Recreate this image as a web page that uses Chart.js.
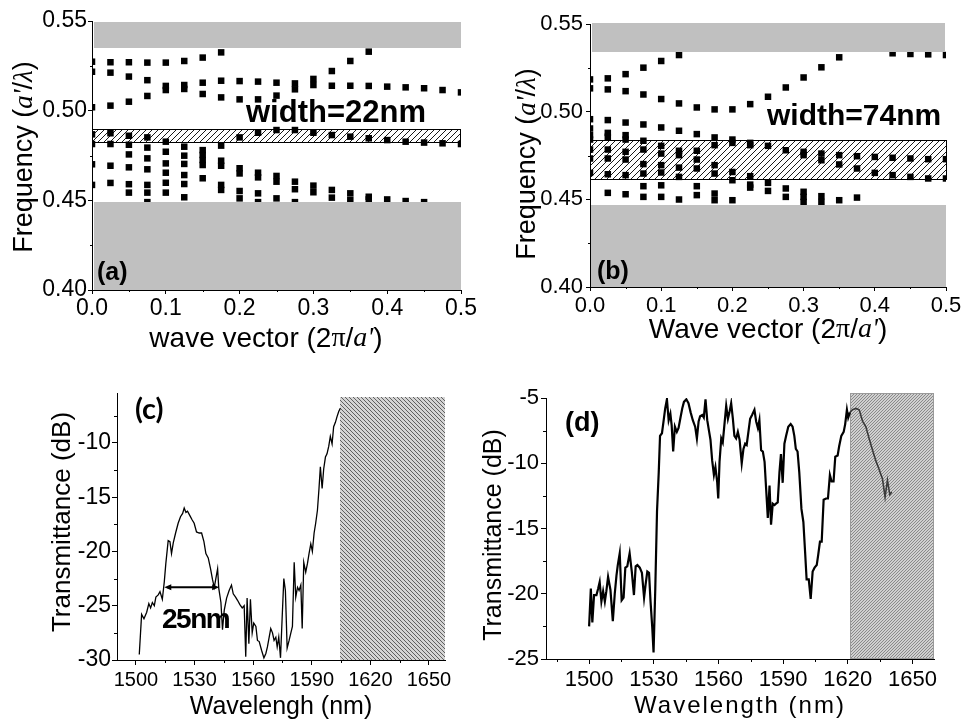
<!DOCTYPE html>
<html>
<head>
<meta charset="utf-8">
<script src="https://cdn.jsdelivr.net/npm/chart.js@4.4.0/dist/chart.umd.min.js"></script>
<style>
    html, body { margin: 0; padding: 0; background: #fff; }
    #wrap { position: relative; width: 962px; height: 723px; overflow: hidden; }
    canvas { position: absolute; }
</style>
</head>
<body>
<div id="wrap">
    <canvas id="chartA" width="480" height="360" style="left:0;top:0"></canvas>
    <canvas id="chartB" width="482" height="360" style="left:480px;top:0"></canvas>
    <canvas id="chartC" width="480" height="363" style="left:0;top:360px"></canvas>
    <canvas id="chartD" width="482" height="363" style="left:480px;top:360px"></canvas>
</div>
<script>
const SANS = "'Liberation Sans', Arial, sans-serif";
const SERIF = "'Liberation Serif', 'Times New Roman', serif";

// band diagrams (a) and (b): k points and mode frequencies at each k
const kPoints = [0, 0.025, 0.05, 0.075, 0.1, 0.125, 0.15, 0.175, 0.2, 0.225, 0.25,
    0.275, 0.3, 0.325, 0.35, 0.375, 0.4, 0.425, 0.45, 0.475, 0.5];

const freqA = [
    [0.5273, 0.5217, 0.5019, 0.4868, 0.4814, 0.4701, 0.4586],
    [0.527, 0.5212, 0.5028, 0.4874, 0.4814, 0.4693, 0.4597],
    [0.527, 0.519, 0.505, 0.486, 0.481, 0.4756, 0.4684, 0.459, 0.4543],
    [0.5268, 0.517, 0.5082, 0.4851, 0.4794, 0.4734, 0.4673, 0.4586, 0.4543, 0.449],
    [0.5268, 0.5138, 0.5115, 0.4827, 0.4771, 0.4706, 0.4654, 0.4598, 0.4543],
    [0.5277, 0.5143, 0.5121, 0.4799, 0.4749, 0.4703, 0.4641, 0.4591, 0.4517],
    [0.5296, 0.5156, 0.5093, 0.478, 0.4753, 0.4725, 0.4697, 0.4623],
    [0.5325, 0.5167, 0.5074, 0.4805, 0.4721, 0.4693, 0.4586, 0.4558],
    [0.5165, 0.5063, 0.4851, 0.4679, 0.465, 0.4552, 0.4511],
    [0.5162, 0.5063, 0.4877, 0.4654, 0.4628, 0.4539, 0.449],
    [0.5156, 0.5084, 0.4892, 0.4636, 0.4604, 0.4511],
    [0.5152, 0.5119, 0.4892, 0.4604, 0.4562, 0.449],
    [0.5177, 0.5143, 0.4877, 0.4582, 0.4545],
    [0.5221, 0.5139, 0.4864, 0.4558, 0.4515],
    [0.5277, 0.5139, 0.4855, 0.4539, 0.4502],
    [0.5329, 0.5138, 0.4846, 0.452, 0.4505],
    [0.5134, 0.4836, 0.4505],
    [0.513, 0.4827, 0.4496],
    [0.5125, 0.4822, 0.449],
    [0.5115, 0.4818],
    [0.5102, 0.4814]
];

const freqB = [
    [0.5184, 0.5133, 0.4957, 0.4904, 0.4866, 0.4841, 0.4784, 0.4733, 0.4651],
    [0.519, 0.5127, 0.4952, 0.4879, 0.4857, 0.4784, 0.4733, 0.4643, 0.4537],
    [0.5214, 0.5117, 0.4938, 0.4866, 0.4841, 0.4771, 0.4727, 0.4638, 0.4529],
    [0.5251, 0.5098, 0.4927, 0.4834, 0.4784, 0.4701, 0.4647, 0.4575, 0.4514],
    [0.5289, 0.5072, 0.491, 0.4805, 0.4761, 0.4695, 0.4653, 0.458, 0.4514],
    [0.5323, 0.5047, 0.4891, 0.4777, 0.4752, 0.4681, 0.4628, 0.4499],
    [0.5024, 0.4872, 0.4777, 0.4727, 0.4676, 0.4575, 0.4524],
    [0.5013, 0.4853, 0.4809, 0.4695, 0.4647, 0.4533, 0.4495],
    [0.5013, 0.4841, 0.4822, 0.4656, 0.4609, 0.4495],
    [0.5043, 0.4822, 0.4809, 0.4632, 0.4584, 0.4567],
    [0.5085, 0.4805, 0.4594, 0.4548],
    [0.5138, 0.478, 0.4562, 0.4514],
    [0.5195, 0.4771, 0.4752, 0.4543, 0.4514, 0.4485],
    [0.5253, 0.4761, 0.4723, 0.4518, 0.4485],
    [0.531, 0.4752, 0.4699, 0.4495],
    [0.4746, 0.4676, 0.451],
    [0.4742, 0.4651],
    [0.5333, 0.4737, 0.4638],
    [0.5329, 0.4733, 0.4628],
    [0.5327, 0.4729, 0.4619],
    [0.5323, 0.4729, 0.4619]
];

// frequency ranges of the shaded regions
const upperBandA = [0.5348, 0.5496];
const lowerBandA = [0.40, 0.4489];
const gapA = [0.4818, 0.4896];
const upperBandB = [0.5342, 0.5504];
const lowerBandB = [0.40, 0.4466];
const gapB = [0.4613, 0.4841];

// tick labels
const ticksK = [0, 0.1, 0.2, 0.3, 0.4, 0.5];
const ticksFreq = [0.40, 0.45, 0.50, 0.55];
const ticksWave = [1500, 1530, 1560, 1590, 1620, 1650];
const ticksTransC = [-30, -25, -20, -15, -10];
const ticksTransD = [-25, -20, -15, -10, -5];

// transmission spectrum (c)
const wavelengthC = [1501.7, 1502.9, 1504.1, 1505.5, 1506.6, 1507.5, 1508.4, 1509.4, 1510.2, 1511.4,
    1512.3, 1513.5, 1514.5, 1515.3, 1516.5, 1517.4, 1518.2, 1519.1, 1520.3, 1521.6,
    1522.8, 1523.9, 1524.7, 1525.6, 1526.4, 1527.6, 1528.8, 1529.8, 1531.0, 1532.4,
    1533.6, 1534.8, 1535.8, 1537.0, 1538.2, 1539.2, 1540.1, 1540.9, 1541.8, 1542.4,
    1543.5, 1544.3, 1545.2, 1546.4, 1547.7, 1548.9, 1549.8, 1551.0, 1552.0, 1553.2,
    1554.4, 1555.4, 1556.2, 1556.9, 1557.8, 1558.6, 1559.5, 1560.3, 1561.4, 1562.2,
    1563.1, 1564.3, 1565.5, 1566.5, 1567.3, 1568.2, 1569.0, 1569.9, 1570.7, 1571.6,
    1572.3, 1573.1, 1574.0, 1574.8, 1575.7, 1576.5, 1577.4, 1578.4, 1579.3, 1580.1,
    1581.0, 1581.8, 1582.7, 1583.5, 1584.4, 1585.1, 1585.9, 1586.9, 1587.8, 1588.6,
    1589.5, 1590.3, 1591.2, 1592.0, 1592.9, 1593.7, 1594.4, 1595.3, 1596.1, 1597.0,
    1597.8, 1598.7, 1599.5, 1600.4, 1601.2, 1602.1, 1602.9, 1603.8, 1604.6];
const transC = [-29.5, -25.8, -26.2, -25.6, -24.8, -25.2, -24.7, -25.0, -24.2, -24.0,
    -23.7, -24.4, -22.8, -21.1, -19.0, -19.1, -20.2, -19.2, -18.3, -17.4,
    -16.8, -16.5, -16.0, -16.4, -16.3, -16.7, -17.1, -17.4, -18.2, -18.3,
    -18.3, -19.1, -20.2, -20.6, -21.6, -22.6, -23.3, -22.5, -21.6, -23.4,
    -24.7, -27.2, -25.4, -24.3, -23.6, -23.1, -23.9, -24.2, -24.5, -24.9,
    -25.2, -25.0, -29.7, -24.3, -28.5, -24.4, -27.5, -26.6, -26.9, -28.2,
    -28.3, -29.1, -29.8, -29.4, -28.8, -27.9, -27.1, -27.5, -28.2, -27.9,
    -28.8, -27.9, -29.8, -26.3, -22.5, -23.6, -28.9, -28.2, -27.5, -26.9,
    -21.0, -24.2, -23.3, -23.6, -23.1, -27.1, -21.0, -21.9, -21.1, -20.2,
    -19.3, -20.0, -18.3, -17.4, -16.2, -14.2, -12.2, -14.2, -12.4, -11.3,
    -11.0, -10.3, -9.4, -10.1, -8.5, -8.1, -7.6, -7.1, -6.8];
const widthMarkC = [1514.5, 1542.6];
const widthLevelC = -23.3;
const shadeC = [1604.4, 1658.2];

// transmission spectrum (d)
const wavelengthD = [1500.0, 1500.8, 1501.5, 1502.3, 1503.4, 1504.2, 1504.9, 1505.7, 1506.5, 1507.3,
    1508.0, 1508.8, 1509.9, 1511.0, 1511.9, 1512.7, 1513.3, 1514.2, 1515.1, 1516.0,
    1516.8, 1517.7, 1518.8, 1519.8, 1520.8, 1521.6, 1522.4, 1523.5, 1524.5, 1525.5,
    1526.2, 1527.0, 1527.8, 1528.5, 1529.3, 1529.9, 1530.7, 1531.5, 1532.3, 1532.9,
    1533.8, 1534.6, 1535.3, 1536.1, 1536.9, 1537.7, 1538.3, 1539.0, 1539.8, 1540.7,
    1541.5, 1542.4, 1543.2, 1544.0, 1545.1, 1546.1, 1547.1, 1548.1, 1549.2, 1550.0,
    1550.8, 1551.5, 1552.5, 1553.2, 1554.0, 1554.8, 1555.6, 1556.3, 1557.1, 1557.9,
    1558.6, 1559.4, 1559.9, 1560.5, 1561.3, 1562.0, 1562.8, 1563.6, 1564.4, 1565.1,
    1565.9, 1566.7, 1567.4, 1568.2, 1569.0, 1569.8, 1570.8, 1571.6, 1572.4, 1573.1,
    1573.9, 1574.7, 1575.6, 1576.7, 1577.5, 1578.3, 1579.0, 1579.8, 1580.6, 1581.4,
    1582.1, 1582.9, 1583.7, 1584.4, 1585.2, 1586.0, 1586.7, 1587.5, 1588.3, 1589.0,
    1589.8, 1590.6, 1591.4, 1592.4, 1593.5, 1594.4, 1595.2, 1595.9, 1596.7, 1597.5,
    1598.5, 1599.4, 1600.2, 1600.9, 1601.9, 1602.8, 1603.7, 1604.6, 1605.6, 1606.3,
    1607.1, 1607.9, 1608.8, 1609.9, 1610.8, 1611.7, 1612.5, 1613.4, 1614.2, 1615.3,
    1616.0, 1617.0, 1618.1, 1618.8, 1619.6, 1620.2, 1621.0];
const transD = [-22.5, -19.6, -22.2, -20.1, -20.1, -19.6, -19.1, -20.6, -19.8, -20.6,
    -19.8, -18.7, -19.7, -22.1, -20.0, -18.6, -17.8, -16.9, -20.5, -20.3,
    -18.0, -17.9, -16.9, -18.3, -20.1, -17.9, -17.8, -18.0, -18.4, -20.3,
    -19.3, -18.3, -18.4, -20.6, -22.6, -24.5, -19.6, -13.7, -10.7, -7.9,
    -7.7, -6.7, -5.8, -5.1, -6.7, -6.2, -7.1, -9.1, -7.2, -7.6,
    -7.3, -6.5, -5.8, -5.3, -5.1, -5.4, -6.1, -6.7, -7.2, -8.1,
    -6.8, -6.4, -6.3, -6.5, -5.1, -6.7, -7.5, -8.2, -9.8, -10.9,
    -10.3, -11.4, -12.7, -9.9, -8.1, -8.4, -7.0, -5.6, -6.6, -6.1,
    -5.4, -6.6, -7.9, -8.1, -7.6, -8.2, -10.0, -8.9, -8.5, -8.6,
    -7.6, -6.6, -6.3, -5.9, -6.8, -7.3, -6.7, -9.0, -9.1, -9.9,
    -11.9, -14.2, -11.7, -14.7, -13.1, -13.2, -13.1, -13.0, -10.7, -9.3,
    -11.5, -8.5, -7.9, -7.2, -7.0, -7.2, -7.9, -8.9, -9.1, -10.7,
    -13.5, -14.5, -16.8, -18.9, -18.9, -20.4, -18.3, -18.0, -17.8, -17.0,
    -16.0, -16.0, -12.8, -12.7, -12.7, -10.9, -11.4, -11.4, -9.5, -9.4,
    -8.7, -7.9, -7.6, -7.0, -5.9, -6.5, -6.1];
const wavelengthDShaded = [1621.0, 1622.2, 1623.8, 1625.3, 1626.9, 1628.4, 1629.9, 1631.5,
    1633.0, 1634.6, 1636.1, 1637.3, 1638.4, 1639.5, 1640.4];
const transDShaded = [-6.1, -5.9, -5.8, -5.9, -6.8, -7.2, -8.1, -9.0,
    -9.8, -10.5, -11.2, -12.6, -11.3, -12.4, -12.2];
const shadeD = [1620.8, 1660];

function toPoints(xs, ys) {
    const n = Math.min(xs.length, ys.length);
    const pts = [];
    for (let i = 0; i < n; i++) pts.push({ x: xs[i], y: ys[i] });
    return pts;
}

function bandPoints(freqs) {
    return kPoints.flatMap((k, i) => freqs[i].map(f => ({ x: k, y: f })));
}

function fitY(w) {
    return s => { s.width = w; s.paddingTop = 0; s.paddingBottom = 0; };
}

function fitX(h) {
    return s => { s.height = h; s.paddingLeft = 0; s.paddingRight = 0; };
}

function makeHatch(ctx, h) {
    const s = h.size;
    const c = document.createElement('canvas');
    c.width = s;
    c.height = s;
    const g = c.getContext('2d');
    g.fillStyle = h.bg;
    g.fillRect(0, 0, s, s);
    g.strokeStyle = h.fg;
    g.lineWidth = h.width;
    g.beginPath();
    [-s, 0, s].forEach(o => {
        if (h.dir === '/') { g.moveTo(o, s); g.lineTo(o + s, 0); }
        else { g.moveTo(o, 0); g.lineTo(o + s, s); }
    });
    g.stroke();
    return ctx.createPattern(c, 'repeat');
}

function drawRegions(chart, list) {
    if (!list) return;
    const { ctx } = chart;
    const { x, y } = chart.scales;
    ctx.save();
    list.forEach(r => {
        const x0 = Math.round(x.getPixelForValue(r.x[0]));
        const x1 = Math.round(x.getPixelForValue(r.x[1]));
        const y0 = Math.round(y.getPixelForValue(r.y[1]));
        const y1 = Math.round(y.getPixelForValue(r.y[0]));
        ctx.fillStyle = r.hatch ? makeHatch(ctx, r.hatch) : r.color;
        ctx.fillRect(x0, y0, x1 - x0, y1 - y0);
        if (r.border) {
            ctx.strokeStyle = r.border;
            ctx.lineWidth = 1;
            ctx.strokeRect(x0 + 0.5, y0 + 0.5, x1 - x0 - 1, y1 - y0 - 1);
        }
    });
    ctx.restore();
}

const regionPlugin = {
    id: 'regions',
    beforeDatasetsDraw(chart, args, opts) { drawRegions(chart, opts.below); },
    afterDatasetsDraw(chart, args, opts) { drawRegions(chart, opts.above); }
};

const minorTickPlugin = {
    id: 'minorTicks',
    afterDraw(chart, args, opts) {
        const { ctx, chartArea } = chart;
        const { x, y } = chart.scales;
        const len = opts.len || 3;
        ctx.save();
        ctx.strokeStyle = '#000';
        ctx.lineWidth = 1;
        ctx.beginPath();
        (opts.x || []).forEach(v => {
            const px = Math.round(x.getPixelForValue(v)) + 0.5;
            ctx.moveTo(px, chartArea.bottom);
            ctx.lineTo(px, chartArea.bottom + len);
        });
        (opts.y || []).forEach(v => {
            const py = Math.round(y.getPixelForValue(v)) + 0.5;
            ctx.moveTo(chartArea.left, py);
            ctx.lineTo(chartArea.left - len, py);
        });
        ctx.stroke();
        ctx.restore();
    }
};

const arrowPlugin = {
    id: 'widthArrow',
    afterDatasetsDraw(chart, args, opts) {
        if (!opts.from) return;
        const { ctx } = chart;
        const { x, y } = chart.scales;
        const x0 = x.getPixelForValue(opts.from);
        const x1 = x.getPixelForValue(opts.to);
        const py = y.getPixelForValue(opts.level);
        ctx.save();
        ctx.strokeStyle = '#000';
        ctx.fillStyle = '#000';
        ctx.lineWidth = 2;
        ctx.beginPath();
        ctx.moveTo(x0 + 3, py);
        ctx.lineTo(x1 - 3, py);
        ctx.stroke();
        ctx.beginPath();
        ctx.moveTo(x0, py); ctx.lineTo(x0 + 7, py - 3); ctx.lineTo(x0 + 7, py + 3); ctx.closePath();
        ctx.moveTo(x1, py); ctx.lineTo(x1 - 7, py - 3); ctx.lineTo(x1 - 7, py + 3); ctx.closePath();
        ctx.fill();
        ctx.restore();
    }
};

const richTextPlugin = {
    id: 'richText',
    afterDraw(chart, args, opts) {
        const ctx = chart.ctx;
        (opts.items || []).forEach(it => {
            ctx.save();
            ctx.translate(it.x, it.y);
            if (it.rotate) ctx.rotate(it.rotate);
            ctx.textBaseline = 'middle';
            ctx.textAlign = 'left';
            ctx.fillStyle = it.color || '#000';
            ctx.letterSpacing = (it.spacing || 0) + 'px';
            let total = 0;
            const segs = it.segments.map(sg => {
                ctx.font = sg.font;
                const w = ctx.measureText(sg.text).width;
                total += w;
                return { text: sg.text, font: sg.font, w };
            });
            let cx = it.align === 'left' ? 0 : -total / 2;
            segs.forEach(sg => {
                ctx.font = sg.font;
                ctx.fillText(sg.text, cx, 0);
                cx += sg.w;
            });
            ctx.restore();
        });
    }
};

function sans(size, bold) { return (bold ? 'bold ' : '') + size + 'px ' + SANS; }
function ital(size) { return 'italic ' + size + 'px ' + SERIF; }

function freqTitle(x, y, size) {
    return {
        x, y, rotate: -Math.PI / 2,
        segments: [
            { text: 'Frequency (', font: sans(size) },
            { text: "a'", font: ital(size) },
            { text: '/', font: sans(size) },
            { text: 'λ', font: ital(size) },
            { text: ')', font: sans(size) }
        ]
    };
}

function waveTitle(label, x, y, size) {
    return {
        x, y,
        segments: [
            { text: label + ' (2', font: sans(size) },
            { text: 'π', font: size + 'px ' + SERIF },
            { text: '/', font: sans(size) },
            { text: "a'", font: ital(size) },
            { text: ')', font: sans(size) }
        ]
    };
}

function plainText(text, x, y, font, extra) {
    return Object.assign({ x, y, segments: [{ text, font }] }, extra || {});
}

function axis(o) {
    const fit = o.width ? fitY(o.width) : fitX(o.height);
    return {
        type: 'linear', min: o.min, max: o.max,
        afterFit: fit,
        afterBuildTicks: s => { s.ticks = o.ticks.map(v => ({ value: v })); },
        ticks: {
            autoSkip: false, maxRotation: 0,
            callback: o.format, color: '#000', padding: o.pad,
            font: { family: SANS, size: o.font }
        },
        grid: { drawOnChartArea: false, drawTicks: true, tickLength: o.tick, color: '#000' },
        border: { display: true, color: '#000', width: 1 }
    };
}

function baseOptions(padding, plugins, scales) {
    return {
        responsive: false,
        animation: false,
        devicePixelRatio: 1,
        events: [],
        layout: { padding },
        plugins: Object.assign({ legend: { display: false }, tooltip: { enabled: false } }, plugins),
        scales
    };
}

const gapHatch = { bg: '#fff', fg: '#000', size: 6, dir: '/', width: 0.9 };
const grayBand = '#c0c0c0';

new Chart(document.getElementById('chartA'), {
    type: 'scatter',
    data: {
        datasets: [{
            data: bandPoints(freqA),
            pointStyle: 'rect', pointRadius: 4.6, borderWidth: 0,
            backgroundColor: '#000', clip: 0
        }]
    },
    options: baseOptions({ top: 21, right: 19, left: 0, bottom: 0 }, {
        regions: {
            below: [{ x: [0, 0.5], y: gapA, hatch: gapHatch, border: '#000' }],
            above: [
                { x: [0.003, 0.5], y: upperBandA, color: grayBand },
                { x: [0.003, 0.5], y: lowerBandA, color: grayBand }
            ]
        },
        minorTicks: { x: [0.05, 0.15, 0.25, 0.35, 0.45], y: [0.425, 0.475, 0.525], len: 2 },
        richText: {
            items: [
                freqTitle(25, 157, 27),
                waveTitle('wave vector', 266, 339, 28),
                plainText('(a)', 97, 273, sans(25, true), { align: 'left' }),
                plainText('width=22nm', 246, 113, sans(31, true), { align: 'left' })
            ]
        }
    }, {
        x: axis({ min: 0, max: 0.5, ticks: ticksK, height: 70, font: 23, pad: 1, tick: 4, format: v => v.toFixed(1) }),
        y: axis({ min: 0.40, max: 0.55, ticks: ticksFreq, width: 92, font: 23, pad: 1, tick: 4, format: v => v.toFixed(2) })
    }),
    plugins: [regionPlugin, minorTickPlugin, richTextPlugin]
});

new Chart(document.getElementById('chartB'), {
    type: 'scatter',
    data: {
        datasets: [{
            data: bandPoints(freqB),
            pointStyle: 'rect', pointRadius: 4.6, borderWidth: 0,
            backgroundColor: '#000', clip: 0
        }]
    },
    options: baseOptions({ top: 24, right: 16, left: 0, bottom: 0 }, {
        regions: {
            below: [{ x: [0, 0.502], y: gapB, hatch: gapHatch, border: '#000' }],
            above: [
                { x: [0.003, 0.498], y: upperBandB, color: grayBand },
                { x: [0.001, 0.5], y: lowerBandB, color: grayBand }
            ]
        },
        minorTicks: { x: [0.05, 0.15, 0.25, 0.35, 0.45], y: [0.425, 0.475, 0.525], len: 2 },
        richText: {
            items: [
                freqTitle(48, 164, 27),
                waveTitle('Wave vector', 288, 330, 28),
                plainText('(b)', 117, 272, sans(25, true), { align: 'left' }),
                plainText('width=74nm', 287, 117, sans(30, true), { align: 'left' })
            ]
        }
    }, {
        x: axis({ min: 0, max: 0.5, ticks: ticksK, height: 73, font: 22, pad: 2, tick: 4, format: v => v.toFixed(1) }),
        y: axis({ min: 0.40, max: 0.55, ticks: ticksFreq, width: 110, font: 22, pad: 3, tick: 4, format: v => v.toFixed(2) })
    }),
    plugins: [regionPlugin, minorTickPlugin, richTextPlugin]
});

new Chart(document.getElementById('chartC'), {
    type: 'scatter',
    data: {
        datasets: [{
            data: toPoints(wavelengthC, transC),
            showLine: true, pointRadius: 0, borderColor: '#000', borderWidth: 1.3, tension: 0
        }]
    },
    options: baseOptions({ top: 33, right: 35, left: 0, bottom: 0 }, {
        regions: {
            below: [{ x: shadeC, y: [-30, -5.73], hatch: { bg: '#d4d4d4', fg: '#2e2e2e', size: 4, dir: '\\', width: 0.7 } }]
        },
        minorTicks: { x: [1515, 1545, 1575, 1605, 1635], y: [-27.5, -22.5, -17.5, -12.5, -7.5], len: 3 },
        widthArrow: { from: widthMarkC[0], to: widthMarkC[1], level: widthLevelC },
        richText: {
            items: [
                plainText('Transmittance (dB)', 63, 162, sans(26), { rotate: -Math.PI / 2 }),
                plainText('Wavelengh (nm)', 281, 347, sans(25)),
                plainText('(c)', 135, 50, "bold 29px Lato, 'Open Sans', sans-serif", { align: 'left' }),
                plainText('25nm', 162, 260, sans(28, true), { align: 'left', spacing: -1.5 })
            ]
        }
    }, {
        x: axis({ min: 1490.3, max: 1658.2, ticks: ticksWave, height: 63, font: 20, pad: 3, tick: 5, format: v => String(v) }),
        y: axis({ min: -30, max: -5.4, ticks: ticksTransC, width: 117, font: 23, pad: 1, tick: 5, format: v => String(v) })
    }),
    plugins: [regionPlugin, minorTickPlugin, arrowPlugin, richTextPlugin]
});

new Chart(document.getElementById('chartD'), {
    type: 'scatter',
    data: {
        datasets: [
            {
                data: toPoints(wavelengthD, transD),
                showLine: true, pointRadius: 0, borderColor: '#000', borderWidth: 2.2, tension: 0
            },
            {
                data: toPoints(wavelengthDShaded, transDShaded),
                showLine: true, pointRadius: 0, borderColor: '#3a3a3a', borderWidth: 1.6, tension: 0
            }
        ]
    },
    options: baseOptions({ top: 38, right: 28, left: 0, bottom: 0 }, {
        regions: {
            below: [{ x: shadeD, y: [-25, -4.62], hatch: { bg: '#d0d0d0', fg: '#8a8a8a', size: 3, dir: '/', width: 1 }, border: '#9a9a9a' }]
        },
        minorTicks: { x: [1485, 1515, 1545, 1575, 1605, 1635], y: [-22.5, -17.5, -12.5, -7.5], len: 3 },
        richText: {
            items: [
                plainText('Transmittance (dB)', 14, 175, sans(25), { rotate: -Math.PI / 2 }),
                plainText('Wavelength (nm)', 260, 346, sans(24), { spacing: 2 }),
                plainText('(d)', 85, 64, sans(27, true), { align: 'left' })
            ]
        }
    }, {
        x: axis({ min: 1480, max: 1660, ticks: ticksWave, height: 64, font: 22, pad: 3, tick: 5, format: v => String(v) }),
        y: axis({ min: -25, max: -5, ticks: ticksTransD, width: 66, font: 22, pad: 2, tick: 5, format: v => String(v) })
    }),
    plugins: [regionPlugin, minorTickPlugin, richTextPlugin]
});
</script>
</body>
</html>
